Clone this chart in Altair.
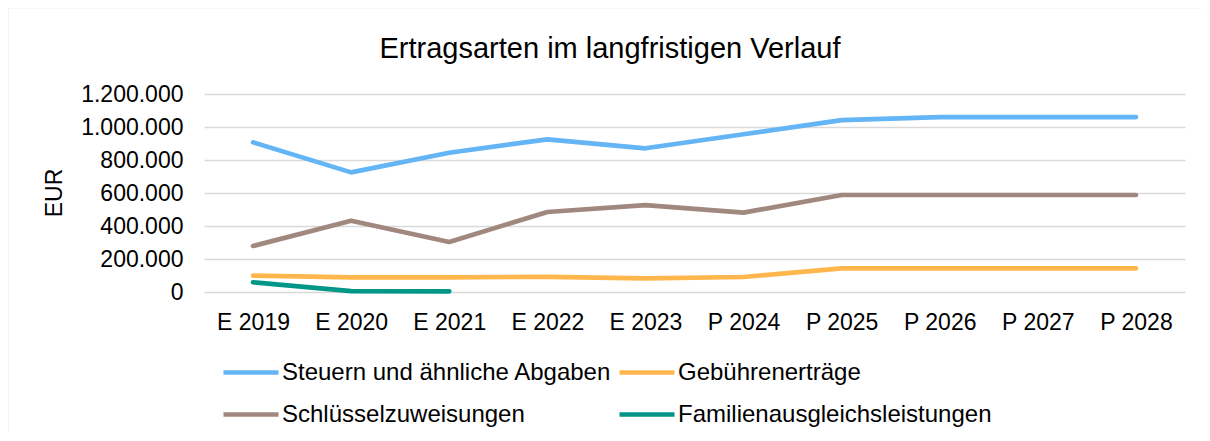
import altair as alt
import pandas as pd

categories = ["E 2019", "E 2020", "E 2021", "E 2022", "E 2023",
              "P 2024", "P 2025", "P 2026", "P 2027", "P 2028"]
series_names = ["Steuern und ähnliche Abgaben", "Gebührenerträge",
                "Schlüsselzuweisungen", "Familienausgleichsleistungen"]
steuern = [907000, 725000, 844000, 925000, 871000, 956000, 1042000, 1060000, 1060000, 1060000]
gebuehren = [99000, 89000, 89000, 92000, 83000, 91000, 143000, 143000, 143000, 143000]
schluessel = [279000, 432000, 303000, 485000, 527000, 481000, 588000, 588000, 588000, 588000]
familien = [59000, 5000, 4000]
colors = ["#64B5F6", "#FFB74D", "#A1887F", "#009688"]
y_ticks = [0, 200000, 400000, 600000, 800000, 1000000, 1200000]

rows = []
for name, vals in zip(series_names, [steuern, gebuehren, schluessel, familien]):
    for i, v in enumerate(vals):
        rows.append({"Jahr": categories[i], "Serie": name, "Wert": v, "order": i})
df = pd.DataFrame(rows)

FONT = "Liberation Sans"
PLOT_W, PLOT_H = 981, 198

lines = alt.Chart(df).mark_line(strokeWidth=4.7, strokeCap="round", strokeJoin="round").encode(
    x=alt.X("Jahr:N", sort=categories,
            scale=alt.Scale(type="point", padding=0.5, domain=categories),
            axis=alt.Axis(title=None, domain=False, ticks=False, grid=False,
                          labelPadding=19, labelFontSize=23, labelColor="#000000",
                          labelAngle=0)),
    y=alt.Y("Wert:Q",
            scale=alt.Scale(domain=[0, 1200000], nice=False),
            axis=alt.Axis(title="EUR", values=y_ticks, domain=False, ticks=False,
                          grid=True, gridColor="#d9d9d9", gridWidth=1.5,
                          labelPadding=21, labelFontSize=23, labelColor="#000000",
                          labelExpr="replace(format(datum.value, ',d'), /,/g, '.')",
                          titleFontSize=23, titleFontWeight="normal", titleColor="#000000",
                          titleAngle=270, titleX=-149.5, titleY=98.5,
                          titleAlign="center", titleBaseline="middle")),
    color=alt.Color("Serie:N", sort=series_names,
                    scale=alt.Scale(domain=series_names, range=colors),
                    legend=alt.Legend(title=None, orient="none", legendX=17, legendY=248.5,
                                      columns=2, direction="horizontal",
                                      symbolType="stroke", symbolSize=3025,
                                      symbolStrokeWidth=4.7, labelFontSize=24,
                                      labelColor="#000000", labelOffset=1,
                                      columnPadding=-2, rowPadding=-15, padding=0,
                                      labelLimit=600)),
    order="order:Q",
)

frame = alt.Chart(alt.Data(values=[{}])).mark_rect(
    fill=None, stroke="#d9d9d9", strokeWidth=1.5
).encode(
    x=alt.value(-196.5), x2=alt.value(1300),
    y=alt.value(-86.5), y2=alt.value(400),
)

chart = alt.layer(frame, lines).properties(
    width=PLOT_W, height=PLOT_H,
    autosize=alt.AutoSizeParams(type="none"),
    padding={"left": 196, "top": 86, "right": 17, "bottom": 141},
    title=alt.TitleParams("Ertragsarten im langfristigen Verlauf", fontSize=29,
                          fontWeight="normal", color="#000000", anchor="middle",
                          frame="group", dx=-84.5, offset=-80, baseline="alphabetic"),
).configure(font=FONT).configure_view(stroke=None)

chart.save("out.html", embed_options={"renderer": "svg", "actions": False})
